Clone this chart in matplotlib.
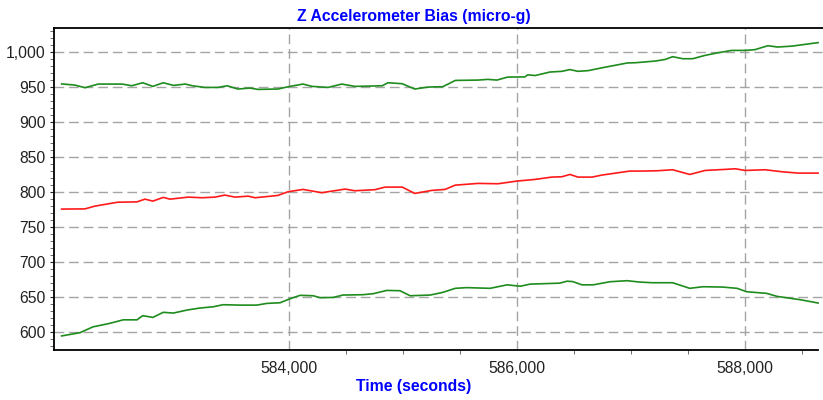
import matplotlib
matplotlib.use("Agg")
import matplotlib.pyplot as plt
from matplotlib.ticker import MultipleLocator, FixedLocator, FuncFormatter

# Upper bound (green)
upper_t = [582010, 582125, 582215, 582330, 582540, 582625, 582720, 582810, 582900, 582990,
           583095, 583155, 583265, 583380, 583460, 583555, 583660, 583730, 583905, 583995,
           584125, 584205, 584345, 584465, 584580, 584730, 584820, 584870, 584995, 585105,
           585220, 585325, 585350, 585460, 585660, 585745, 585825, 585920, 586070, 586095,
           586160, 586290, 586395, 586465, 586535, 586625, 586745, 586970, 587040, 587215,
           587300, 587365, 587455, 587540, 587650, 587765, 587885, 588000, 588085, 588200,
           588285, 588410, 588525, 588640]
upper_v = [954.0, 952.4, 948.6, 953.8, 953.8, 951.4, 955.7, 950.5, 955.7, 951.9,
           953.8, 951.4, 949.0, 949.0, 951.4, 946.7, 948.1, 946.2, 946.7, 950.0,
           953.8, 950.5, 949.0, 953.8, 950.5, 951.0, 951.4, 955.7, 954.3, 946.7,
           949.5, 950.0, 950.0, 959.0, 959.5, 960.5, 959.5, 963.8, 964.0, 967.0,
           966.0, 971.0, 972.0, 974.5, 972.0, 973.0, 977.0, 984.0, 984.3, 986.7,
           989.0, 992.9, 990.0, 990.0, 994.8, 998.6, 1001.9, 1001.9, 1002.9, 1008.6,
           1006.7, 1008.0, 1010.5, 1013.0]

# Estimate (red)
bias_t = [582010, 582215, 582300, 582500, 582670, 582740, 582810, 582900, 582960, 583120,
          583240, 583355, 583440, 583530, 583645, 583705, 583905, 583995, 584125, 584290,
          584495, 584580, 584755, 584845, 584995, 585105, 585255, 585370, 585460, 585660,
          585835, 586000, 586160, 586305, 586395, 586465, 586535, 586660, 586745, 586990,
          587095, 587235, 587365, 587515, 587650, 587825, 587915, 588000, 588175, 588325,
          588465, 588640]
bias_v = [775.2, 775.5, 779.4, 785.0, 785.5, 789.4, 786.6, 791.9, 789.4, 792.3,
          791.4, 792.3, 795.2, 792.3, 793.7, 791.4, 794.7, 800.0, 803.3, 798.6,
          803.8, 801.4, 802.9, 806.6, 806.6, 797.6, 801.9, 803.3, 809.4, 811.9,
          811.4, 815.2, 817.6, 820.9, 821.4, 824.7, 820.9, 820.9, 823.8, 829.5,
          829.5, 830.0, 831.4, 824.7, 830.4, 831.9, 832.8, 830.4, 831.4, 828.5,
          826.6, 826.6]

# Lower bound (green)
lower_t = [582010, 582170, 582285, 582430, 582550, 582670, 582720, 582810, 582900, 582990,
           583110, 583220, 583340, 583425, 583575, 583720, 583810, 583925, 584005, 584100,
           584215, 584275, 584390, 584475, 584650, 584740, 584860, 584975, 585065, 585240,
           585350, 585460, 585560, 585765, 585915, 586030, 586115, 586375, 586440, 586490,
           586570, 586670, 586815, 586965, 587080, 587190, 587365, 587515, 587630, 587805,
           587930, 588015, 588190, 588280, 588485, 588640]
lower_v = [594.0, 598.6, 607.0, 611.9, 617.0, 617.0, 622.9, 620.5, 627.7, 626.7,
           631.0, 633.8, 635.7, 638.6, 638.0, 638.0, 640.5, 641.4, 646.7, 652.0,
           651.4, 648.6, 649.0, 652.4, 652.9, 654.3, 659.0, 658.6, 651.4, 652.4,
           656.2, 662.0, 663.0, 662.0, 667.0, 665.0, 668.0, 669.4, 672.2, 671.6,
           667.0, 667.0, 671.4, 672.9, 670.9, 670.0, 670.0, 662.0, 664.3, 663.8,
           662.0, 657.1, 654.8, 650.5, 645.7, 641.0]

x_major = [584000, 586000, 588000]
x_minor = [584500, 585000, 585500, 586500, 587000, 587500, 588500]

plt.rcParams['font.family'] = ['Liberation Sans', 'DejaVu Sans']

fig = plt.figure(figsize=(8.23, 4.0), dpi=100)
ax = fig.add_axes([54 / 823, 50 / 400, 1 - 54 / 823, 322 / 400])

green = '#1e8c1e'
ax.plot(upper_t, upper_v, color=green, lw=1.2)
ax.plot(bias_t, bias_v, color='#ff1a1a', lw=1.2)
ax.plot(lower_t, lower_v, color=green, lw=1.2)

ax.set_xlim(581943, 588683)
ax.set_ylim(573.9, 1033.9)

ax.xaxis.set_major_locator(FixedLocator(x_major))
ax.xaxis.set_minor_locator(FixedLocator(x_minor))
ax.yaxis.set_major_locator(MultipleLocator(50))
ax.yaxis.set_minor_locator(MultipleLocator(10))
fmt = FuncFormatter(lambda v, p: f"{v:,.0f}")
ax.xaxis.set_major_formatter(fmt)
ax.yaxis.set_major_formatter(fmt)

ax.grid(True, which='major', color='#a4a4a4', linestyle=(0, (7, 3.5)), lw=1.0)
ax.tick_params(axis='both', which='major', labelsize=11.3, length=3, colors='#222222', pad=3)
ax.tick_params(axis='both', which='minor', length=3, colors='#555555')
ax.tick_params(axis='x', which='major', length=0, pad=8)

for s in ['left', 'top', 'bottom']:
    ax.spines[s].set_color('black')
    ax.spines[s].set_linewidth(1.3)
ax.spines['right'].set_visible(False)
ax.spines['bottom'].set_bounds(581943, 588640)

fig.text(414 / 823, 1 - 16 / 400, "Z Accelerometer Bias (micro-g)", ha='center', va='center',
         color='#0000ff', fontsize=11.3, fontweight='bold')
fig.text(414 / 823, 1 - 387 / 400, "Time (seconds)", ha='center', va='center',
         color='#0000ff', fontsize=11.3, fontweight='bold')

fig.savefig("out.png", dpi=100)
